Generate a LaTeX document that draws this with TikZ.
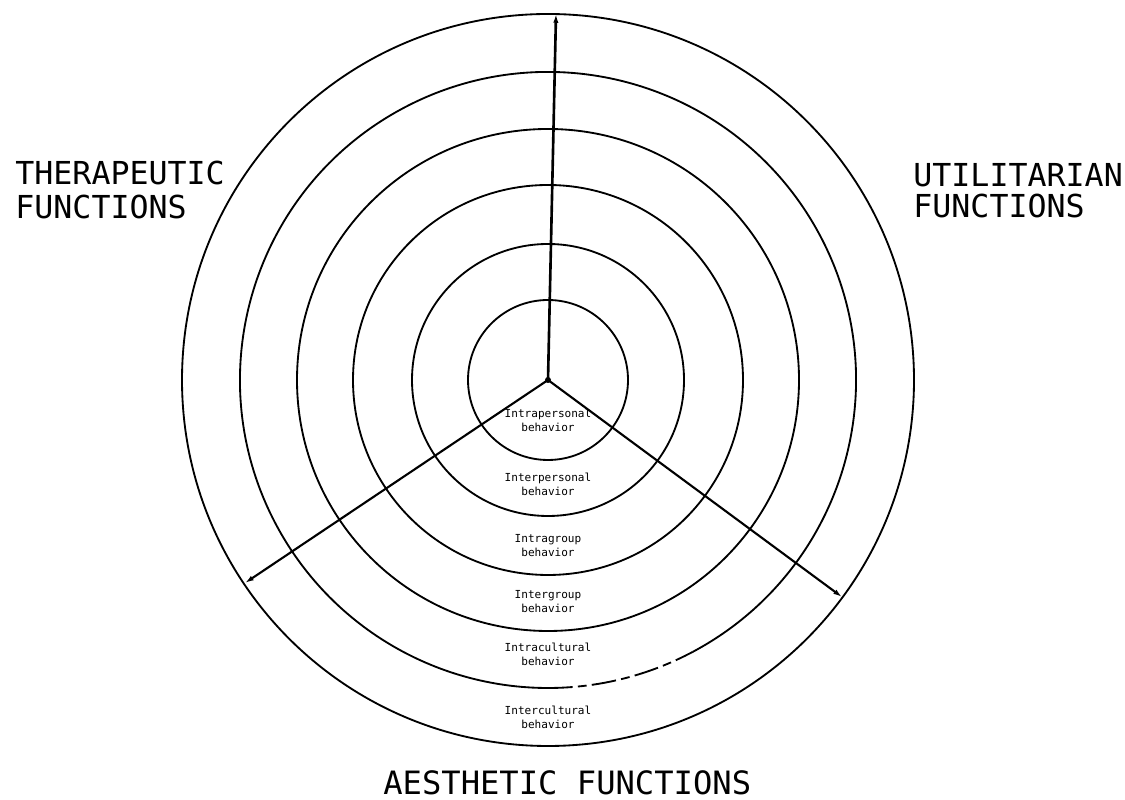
\documentclass[tikz,border=0pt]{standalone}
\usepackage{fontspec}
\newfontfamily\labelmono{DejaVu Sans Mono}
\usetikzlibrary{calc,arrows.meta}
\begin{document}
\begin{tikzpicture}[x=0.02cm,y=0.02cm,
  ring/.style={line width=1.05pt},
  spoke/.style={line width=1.2pt,-{Latex[length=5pt,width=3pt]}},
  biglabel/.style={font=\labelmono\fontsize{18}{19.4}\selectfont, inner sep=0pt, align=left, anchor=north west},
  ringlabel/.style={font=\labelmono\fontsize{6.3}{8}\selectfont, inner sep=0pt, align=center}]
\useasboundingbox (0,0) rectangle (1125,800);
\coordinate (C) at (548,420);
\foreach \r in {80,136,195,251,366} \draw[ring] (C) circle[radius=\r];
\draw[ring] ($(C)+(-62:308)$) arc[start angle=-62,end angle=270,radius=308];
\draw[ring,dash pattern=on 14pt off 3pt on 5pt off 3pt] ($(C)+(-90:308)$) arc[start angle=-90,end angle=-62,radius=308];
\coordinate (T) at (556,786);
\coordinate (L) at (245,217);
\coordinate (R) at (842,203);
\draw[spoke,line width=1.5pt] (C) -- (T);
\draw[spoke] (C) -- (L);
\draw[spoke] (C) -- (R);
\fill (C) circle[radius=3];
\node[biglabel] (ther) at (15,639) {THERAPEUTIC\\FUNCTIONS};
\node[biglabel,font=\labelmono\fontsize{18}{17.5}\selectfont] (util) at (913,637) {UTILITARIAN\\FUNCTIONS};
\node[biglabel,font=\labelmono\fontsize{18.3}{20}\selectfont] (aest) at (383,30) {AESTHETIC FUNCTIONS};
\node[ringlabel] (l1) at (548,380) {Intrapersonal\\behavior};
\node[ringlabel] (l2) at (548,316) {Interpersonal\\behavior};
\node[ringlabel] (l3) at (548,254) {Intragroup\\behavior};
\node[ringlabel] (l4) at (548,198) {Intergroup\\behavior};
\node[ringlabel] (l5) at (548,146) {Intracultural\\behavior};
\node[ringlabel] (l6) at (548,83) {Intercultural\\behavior};
\end{tikzpicture}
\end{document}
